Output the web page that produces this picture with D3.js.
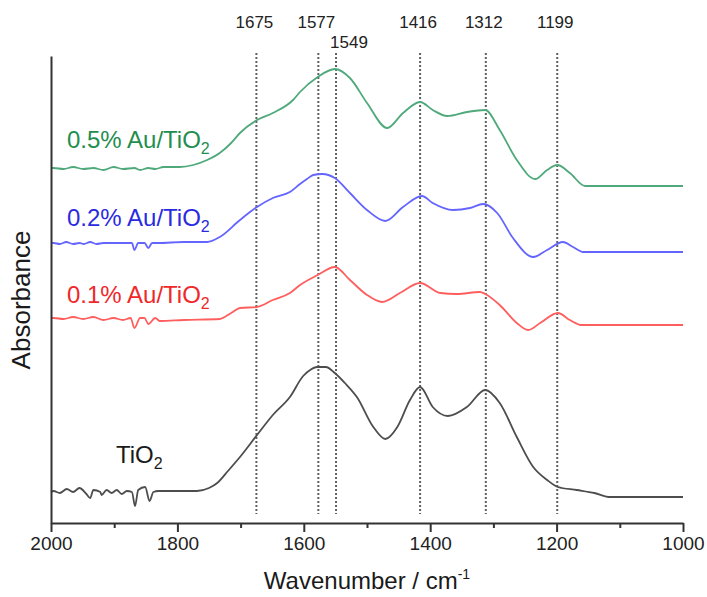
<!DOCTYPE html>
<html>
<head>
<meta charset="utf-8">
<script src="https://cdn.jsdelivr.net/npm/d3@7/dist/d3.min.js"></script>
<style>
  html, body { margin: 0; padding: 0; background: #fff; }
  svg { display: block; font-family: "Liberation Sans", Arial, sans-serif; }
</style>
</head>
<body>
<svg id="chart" width="707" height="597"></svg>
<script>
// ---- Data (wavenumber cm^-1, absorbance a.u., offset-stacked) ----
const peakMarkers = [1675, 1577, 1549, 1416, 1312, 1199];
const xTicksMajor = [2000, 1800, 1600, 1400, 1200, 1000];
const xTicksMinor = [1900, 1700, 1500, 1300, 1100];

const seriesTiO2 = [
  [2000,0.31],[1996,0.32],[1986,0.30],[1975,0.34],[1965,0.31],[1955,0.35],[1944,0.29],[1938,0.25],
  [1933,0.33],[1922,0.31],[1920,0.28],[1912,0.33],[1904,0.30],[1896,0.33],[1888,0.29],[1880,0.32],
  [1872,0.31],[1867,0.17],[1862,0.33],[1851,0.36],[1844,0.22],[1838,0.31],[1830,0.32],[1800,0.32],
  [1769,0.32],[1750,0.35],[1737,0.40],[1720,0.52],[1701,0.66],[1674,0.88],[1649,1.08],[1622,1.26],
  [1601,1.47],[1590,1.53],[1579,1.56],[1565,1.56],[1551,1.50],[1535,1.40],[1516,1.26],[1490,0.96],
  [1471,0.84],[1452,0.96],[1432,1.23],[1416,1.36],[1396,1.16],[1372,1.07],[1342,1.16],[1313,1.33],
  [1290,1.20],[1263,0.86],[1237,0.56],[1215,0.43],[1198,0.36],[1168,0.33],[1140,0.30],[1115,0.26],
  [1000,0.26]
];
const seriesAu01 = [
  [2000,2.05],[1996,2.05],[1980,2.04],[1965,2.06],[1949,2.04],[1933,2.06],[1917,2.03],[1901,2.05],
  [1886,2.03],[1874,2.05],[1868,1.95],[1859,2.05],[1852,2.05],[1846,1.99],[1835,2.05],[1828,2.02],
  [1790,2.03],[1733,2.04],[1715,2.10],[1701,2.15],[1674,2.16],[1649,2.23],[1622,2.30],[1606,2.38],
  [1578,2.48],[1551,2.56],[1527,2.43],[1500,2.28],[1476,2.21],[1448,2.30],[1416,2.40],[1384,2.30],
  [1358,2.29],[1321,2.31],[1313,2.29],[1290,2.18],[1263,2.00],[1245,1.93],[1226,2.00],[1198,2.10],
  [1179,2.03],[1161,1.98],[1000,1.98]
];
const seriesAu02 = [
  [2000,2.80],[1996,2.80],[1986,2.79],[1976,2.81],[1965,2.79],[1955,2.80],[1948,2.79],[1938,2.81],
  [1928,2.79],[1917,2.80],[1909,2.80],[1897,2.80],[1886,2.80],[1872,2.80],[1868,2.73],[1862,2.80],
  [1852,2.80],[1846,2.75],[1840,2.80],[1830,2.80],[1790,2.81],[1753,2.81],[1733,2.86],[1701,3.03],
  [1674,3.16],[1649,3.25],[1622,3.31],[1606,3.39],[1595,3.44],[1585,3.48],[1571,3.49],[1551,3.45],
  [1527,3.30],[1500,3.13],[1471,3.02],[1443,3.16],[1413,3.27],[1396,3.20],[1364,3.13],[1337,3.15],
  [1316,3.19],[1294,3.10],[1269,2.85],[1237,2.66],[1215,2.73],[1190,2.81],[1174,2.76],[1158,2.71],
  [1000,2.71]
];
const seriesAu05 = [
  [2000,3.55],[1996,3.55],[1980,3.54],[1965,3.56],[1949,3.54],[1933,3.55],[1917,3.53],[1901,3.56],
  [1886,3.54],[1868,3.55],[1859,3.53],[1846,3.55],[1835,3.54],[1822,3.56],[1796,3.56],[1775,3.58],
  [1753,3.63],[1733,3.70],[1715,3.80],[1701,3.90],[1674,4.03],[1649,4.10],[1617,4.23],[1606,4.31],
  [1578,4.46],[1551,4.54],[1527,4.45],[1500,4.20],[1468,3.95],[1443,4.10],[1416,4.21],[1396,4.13],
  [1373,4.07],[1342,4.11],[1313,4.13],[1290,3.93],[1263,3.63],[1234,3.44],[1215,3.53],[1199,3.58],
  [1179,3.50],[1155,3.37],[1000,3.37]
];
const seriesNames = ["TiO", "0.1% Au/TiO", "0.2% Au/TiO", "0.5% Au/TiO"];

// ---- Layout ----
const svg = d3.select("#chart");
const x = d3.scaleLinear().domain([2000, 1000]).range([51, 683]);
const y = d3.scaleLinear().domain([0, 4.67]).range([523, 56]);

const series = [
  { name: seriesNames[0], data: seriesTiO2, line: "#4d4d4d", text: "#1a1a1a", lx: 116, ly: 463 },
  { name: seriesNames[1], data: seriesAu01, line: "#ff5e5e", text: "#f0282a", lx: 67, ly: 303 },
  { name: seriesNames[2], data: seriesAu02, line: "#6464ff", text: "#2a2ae0", lx: 67, ly: 226 },
  { name: seriesNames[3], data: seriesAu05, line: "#4fa97b", text: "#1f8e4f", lx: 67, ly: 148 }
];

// dotted peak markers
svg.append("g").selectAll("line").data(peakMarkers).join("line")
  .attr("x1", d => x(d)).attr("x2", d => x(d))
  .attr("y1", 53).attr("y2", 514)
  .attr("stroke", "#606060").attr("stroke-width", 2)
  .attr("stroke-dasharray", "2,2");

// peak labels
svg.append("g").selectAll("text").data(peakMarkers).join("text")
  .attr("x", d => x(d) + (d === 1549 ? 13 : -2))
  .attr("y", d => d === 1549 ? 48 : 28)
  .attr("text-anchor", "middle")
  .attr("font-size", 17).attr("fill", "#222")
  .text(d => d);

// lines
const lineGen = d3.line().x(d => x(d[0])).y(d => y(d[1])).curve(d3.curveMonotoneX);
svg.append("g").selectAll("path").data(series).join("path")
  .attr("d", d => lineGen(d.data))
  .attr("fill", "none")
  .attr("stroke", d => d.line)
  .attr("stroke-width", 1.8)
  .attr("stroke-linejoin", "round");

// series labels
const lab = svg.append("g").selectAll("text").data(series).join("text")
  .attr("x", d => d.lx).attr("y", d => d.ly)
  .attr("font-size", 24).attr("fill", d => d.text);
lab.append("tspan").text(d => d.name);
lab.append("tspan").attr("dy", 6).attr("font-size", 16).text("2");

// axes
const xAxisMajor = d3.axisBottom(x).tickValues(xTicksMajor).tickFormat(d3.format("d"))
  .tickSize(9).tickSizeOuter(0).tickPadding(5);
const gx = svg.append("g").attr("transform", "translate(0,523)").call(xAxisMajor);
gx.attr("font-family", "'Liberation Sans', Arial, sans-serif");
gx.select(".domain").attr("stroke", "#333").attr("stroke-width", 2);
gx.selectAll(".tick line").attr("stroke", "#333").attr("stroke-width", 2);
gx.selectAll(".tick text").attr("font-size", 19).attr("fill", "#222");

const xAxisMinor = d3.axisBottom(x).tickValues(xTicksMinor).tickSize(5).tickSizeOuter(0).tickFormat("");
const gxm = svg.append("g").attr("transform", "translate(0,523)").call(xAxisMinor);
gxm.select(".domain").remove();
gxm.selectAll(".tick line").attr("stroke", "#333").attr("stroke-width", 2);

const yAxis = d3.axisLeft(y).tickValues([]).tickSizeOuter(0);
const gy = svg.append("g").attr("transform", "translate(51,0)").call(yAxis);
gy.select(".domain").attr("stroke", "#333").attr("stroke-width", 2);

// axis titles
const xt = svg.append("text").attr("x", 367).attr("y", 589)
  .attr("text-anchor", "middle").attr("font-size", 24).attr("fill", "#1a1a1a");
xt.append("tspan").text("Wavenumber / cm");
xt.append("tspan").attr("dy", -10).attr("font-size", 14).text("-1");

svg.append("text")
  .attr("transform", "translate(30,300) rotate(-90)")
  .attr("text-anchor", "middle").attr("font-size", 26).attr("fill", "#1a1a1a")
  .text("Absorbance");
</script>
</body>
</html>
